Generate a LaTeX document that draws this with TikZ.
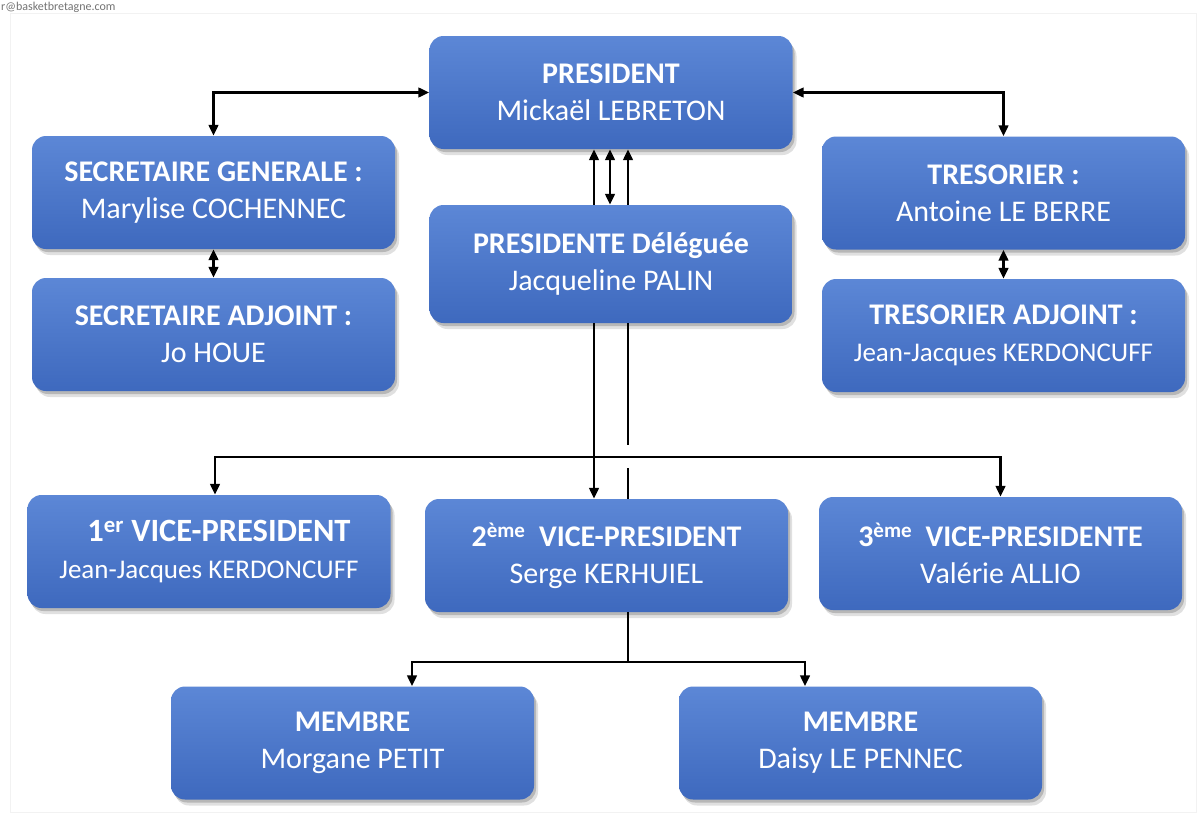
\documentclass[tikz,border=0pt]{standalone}
\usepackage{fontspec}
\setmainfont{Carlito}
\usetikzlibrary{arrows.meta,calc,shadows}
\definecolor{boxtop}{RGB}{92,135,214}
\definecolor{boxbot}{RGB}{62,105,190}
\tikzset{
  orgbox/.style={rounded corners=14pt, minimum width=363pt, minimum height=113pt,
    top color=boxtop, bottom color=boxbot, draw=none, text=white, align=center,
    font=\fontsize{30}{37}\selectfont,
    drop shadow={shadow xshift=4pt,shadow yshift=-6pt,opacity=0.12,fill=black},
    drop shadow={shadow xshift=2pt,shadow yshift=-3pt,opacity=0.18,fill=black}},
  arr/.style={line width=2.8pt, black},
  tip/.tip={Triangle[length=11pt,width=9.5pt]},
}
\newcommand{\smallname}{\fontsize{27}{37}\selectfont}
\begin{document}
\begin{tikzpicture}[x=1pt,y=-1pt]
\useasboundingbox (0,0) rectangle (1203,814);
\fill[white] (0,0) rectangle (1203,814);
\draw[black!5] (10,13) rectangle (1196,812);
\node[anchor=base west, text=black!55, font=\fontsize{12}{14}\selectfont, inner sep=0pt] (wm) at (1,10) {r@basketbretagne.com};

\node[orgbox] (p)   at (611,92.5)  {\textbf{PRESIDENT}\\Mickaël LEBRETON};
\node[orgbox] (sg)  at (213.5,192.5) {\textbf{SECRETAIRE GENERALE :}\\Marylise COCHENNEC};
\node[orgbox] (tr)  at (1003.5,193) {\textbf{TRESORIER :}\\Antoine LE BERRE};
\node[orgbox, minimum height=118pt] (pd)  at (611,264) {\textbf{PRESIDENTE Déléguée}\\Jacqueline PALIN};
\node[orgbox] (sa)  at (213.5,334.5) {\textbf{SECRETAIRE ADJOINT :}\\Jo HOUE};
\node[orgbox] (ta)  at (1003.5,335.5) {\textbf{TRESORIER ADJOINT :}\\\smallname Jean-Jacques KERDONCUFF};
\node[orgbox] (vp1) at (209,551.5) {\fontsize{32.5}{37}\selectfont\hspace*{20pt}\textbf{1\textsuperscript{er} VICE-PRESIDENT}\\\smallname Jean-Jacques KERDONCUFF};
\node[orgbox] (vp2) at (606.5,555.5) {\textbf{2\textsuperscript{ème}\ \ VICE-PRESIDENT}\\Serge KERHUIEL};
\node[orgbox] (vp3) at (1000.5,553.5) {\textbf{3\textsuperscript{ème}\ \ VICE-PRESIDENTE}\\Valérie ALLIO};
\node[orgbox] (m1)  at (352.5,743) {\textbf{MEMBRE}\\Morgane PETIT};
\node[orgbox] (m2)  at (860.5,743) {\textbf{MEMBRE}\\Daisy LE PENNEC};

% top connectors
\draw[arr,tip-tip] (sg.north) |- (p.west);
\draw[arr,tip-tip] (tr.north) |- (p.east);
\draw[arr,tip-tip] (sg.south) -- (sa.north);
\draw[arr,tip-tip] (tr.south) -- (ta.north);

% between president and presidente deleguee
\coordinate (a1) at ($(pd.north)+(-17,0)$);
\coordinate (a2) at ($(pd.north)+(-1,0)$);
\coordinate (a3) at ($(pd.north)+(17,0)$);
\draw[arr,-tip] (a1) -- (a1 |- p.south);
\draw[arr,tip-tip] (a2) -- (a2 |- p.south);
\draw[arr,-tip] (a3) -- (a3 |- p.south);

% down to vice presidents
\coordinate (l1) at ($(pd.south)+(-17,0)$);
\coordinate (l2) at ($(pd.south)+(17,0)$);
\coordinate (hb) at (600,457);
\draw[arr,-tip] (l1) -- (l1 |- vp2.north);
\draw[arr] (l2) -- ($(l2 |- hb)+(0,-12)$);
\draw[arr] ($(l2 |- hb)+(0,11)$) -- (l2 |- vp2.north);
\draw[arr,tip-tip] ($(vp1.north)+(6,0)$) |- (hb) -| (vp3.north);

% down to members
\coordinate (s2) at ($(vp2.south)+(21.5,0)$);
\coordinate (hm) at (620,662);
\draw[arr] (s2) -- (s2 |- hm);
\draw[arr,-tip] (s2 |- hm) -| ($(m1.north)+(59.5,0)$);
\draw[arr,-tip] (s2 |- hm) -| ($(m2.north)+(-55.5,0)$);
\end{tikzpicture}
\end{document}
